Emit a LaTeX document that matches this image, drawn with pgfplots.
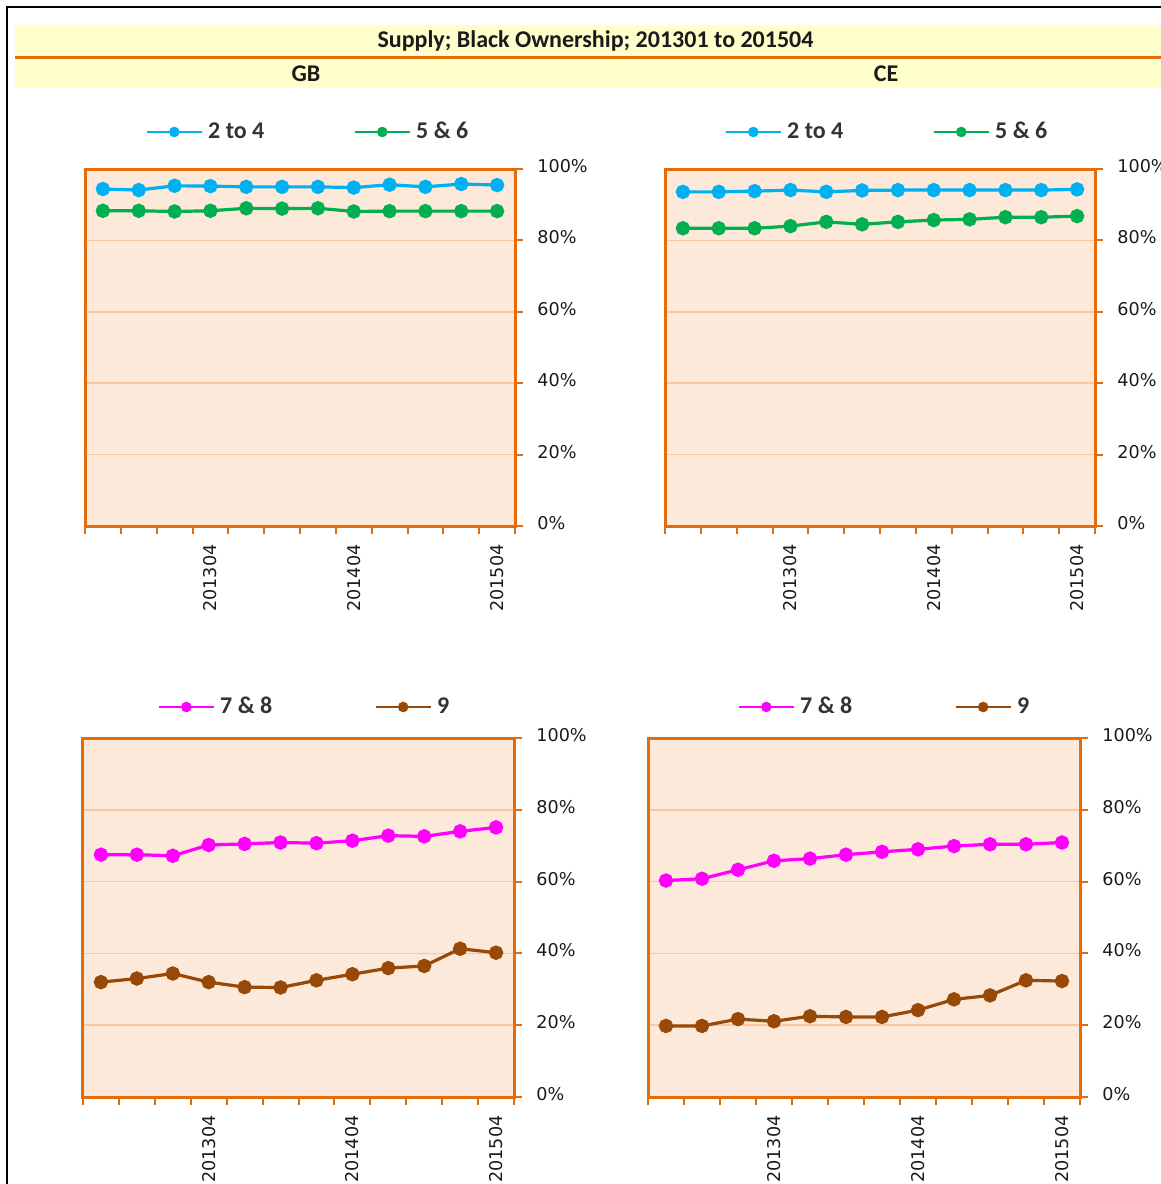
\documentclass[border=0pt]{standalone}
\usepackage{fontspec}
\setmainfont{DejaVu Sans}
\newfontfamily\carlito{Carlito}
\usepackage{pgfplots}
\pgfplotsset{compat=1.18}
\definecolor{frameor}{HTML}{E46C0A}
\definecolor{plotbg}{HTML}{FDE9D9}
\definecolor{gridor}{HTML}{FAC8A0}
\definecolor{bandy}{HTML}{FFFFCC}
\definecolor{sblue}{HTML}{00B0F0}
\definecolor{sgreen}{HTML}{00B050}
\definecolor{smag}{HTML}{FF00FF}
\definecolor{sbrown}{HTML}{984807}
\definecolor{txt}{HTML}{1A1A1A}
\definecolor{legtxt}{HTML}{333333}

\pgfplotsset{
  panel/.style={
    scale only axis,
    xmin=0.5, xmax=12.5, ymin=0, ymax=100,
    axis background/.style={fill=plotbg},
    axis line style={draw=frameor, line width=1.5pt},
    ymajorgrids, grid style={draw=gridor, line width=0.8pt},
    ytick={0,20,40,60,80,100},
    yticklabels={0\%,20\%,40\%,60\%,80\%,100\%},
    ytick pos=right, yticklabel pos=right,
    xtick pos=bottom, xticklabel pos=bottom,
    tick align=outside,
    major tick length=4pt, minor tick length=4pt,
    major y tick style={draw=frameor, line width=1pt},
    major x tick style={draw=none},
    minor x tick style={draw=frameor, line width=1pt},
    xtick={1,...,12},
    minor xtick={0.5,1.5,...,12.5},
    xticklabels={,,,201304,,,,201404,,,,201504},
    xticklabel style={rotate=90, anchor=east, inner sep=0pt, font=\fontsize{8.8}{10}\selectfont, text=txt},
    yticklabel style={anchor=west, inner sep=0pt, yshift=1.5pt, font=\fontsize{8.8}{10}\selectfont, text=txt},
    xticklabel shift=5pt,
    yticklabel shift=7pt,
    legend columns=2,
    legend image code/.code={\draw[mark repeat=2,mark phase=2,#1,line width=1.4pt,mark size=1.9pt] plot coordinates {(0pt,0pt) (13.75pt,0pt) (27.5pt,0pt)};},
    legend style={draw=none, fill=none, inner sep=0pt, at={(0,1)}, anchor=west,
      font=\carlito\bfseries\fontsize{12}{14}\selectfont, text=legtxt,
      nodes={inner sep=0pt},
      /tikz/every odd column/.append style={column sep=2.5pt},
      /tikz/every even column/.append style={column sep=44.5pt}},
    every axis plot/.append style={line width=1.6pt, mark=*, mark size=2.8pt},
  }
}

\begin{document}
\begin{tikzpicture}
\begin{scope}[x=0.5pt,y=-0.5pt]
  \fill[bandy] (15,25) rectangle (1161,88);
  \draw[frameor, line width=1.5pt] (15,57) -- (1161,57);
  \node[font=\carlito\bfseries\fontsize{12}{14}\selectfont, text=txt, anchor=base] at (595.5,47) {Supply; Black Ownership; 201301 to 201504};
  \node[font=\carlito\bfseries\fontsize{12}{14}\selectfont, text=txt, anchor=base] at (306,81) {GB};
  \node[font=\carlito\bfseries\fontsize{12}{14}\selectfont, text=txt, anchor=base] at (886,81) {CE};
  \draw[black, line width=1pt] (7,1184) -- (7,7) -- (1161,7);
\end{scope}

% Top-left GB
\begin{axis}[panel, at={(42.5pt,-263pt)}, anchor=south west, width=215pt, height=178.5pt,
  legend style={xshift=30pt, yshift=18.5pt}]
\addplot[color=sblue] coordinates {(1,94.4) (2,94.1) (3,95.3) (4,95.2) (5,95.0) (6,95.0) (7,95.0) (8,94.8) (9,95.6) (10,95.0) (11,95.8) (12,95.5)};
\addlegendentry{2 to 4}
\addplot[color=sgreen] coordinates {(1,88.3) (2,88.3) (3,88.1) (4,88.3) (5,89.0) (6,88.9) (7,89.0) (8,88.1) (9,88.2) (10,88.2) (11,88.2) (12,88.2)};
\addlegendentry{5 \& 6}
\end{axis}

% Top-right CE
\begin{axis}[panel, at={(332.5pt,-263pt)}, anchor=south west, width=215pt, height=178.5pt,
  legend style={xshift=29.5pt, yshift=18.5pt}]
\addplot[color=sblue] coordinates {(1,93.6) (2,93.6) (3,93.8) (4,94.1) (5,93.6) (6,94.0) (7,94.1) (8,94.1) (9,94.1) (10,94.1) (11,94.1) (12,94.3)};
\addlegendentry{2 to 4}
\addplot[color=sgreen] coordinates {(1,83.4) (2,83.4) (3,83.4) (4,84.0) (5,85.2) (6,84.5) (7,85.2) (8,85.7) (9,85.9) (10,86.5) (11,86.5) (12,86.8)};
\addlegendentry{5 \& 6}
\end{axis}

% Bottom-left GB
\begin{axis}[panel, at={(41.5pt,-548.5pt)}, anchor=south west, width=215.5pt, height=179.5pt,
  legend style={xshift=37pt, yshift=15.5pt, /tikz/every even column/.append style={column sep=51pt}}]
\addplot[color=smag] coordinates {(1,67.5) (2,67.5) (3,67.2) (4,70.2) (5,70.5) (6,70.9) (7,70.7) (8,71.4) (9,72.8) (10,72.6) (11,74.0) (12,75.1)};
\addlegendentry{7 \& 8}
\addplot[color=sbrown] coordinates {(1,32.0) (2,33.0) (3,34.4) (4,32.0) (5,30.6) (6,30.5) (7,32.5) (8,34.2) (9,35.9) (10,36.5) (11,41.3) (12,40.2)};
\addlegendentry{9}
\end{axis}

% Bottom-right CE
\begin{axis}[panel, at={(324pt,-548.5pt)}, anchor=south west, width=216pt, height=179.5pt,
  legend style={xshift=44.5pt, yshift=15.5pt, /tikz/every even column/.append style={column sep=51pt}}]
\addplot[color=smag] coordinates {(1,60.3) (2,60.8) (3,63.3) (4,65.8) (5,66.4) (6,67.5) (7,68.3) (8,69.0) (9,69.9) (10,70.4) (11,70.4) (12,70.9)};
\addlegendentry{7 \& 8}
\addplot[color=sbrown] coordinates {(1,19.8) (2,19.8) (3,21.7) (4,21.1) (5,22.5) (6,22.3) (7,22.3) (8,24.2) (9,27.2) (10,28.3) (11,32.5) (12,32.3)};
\addlegendentry{9}
\end{axis}

\pgfresetboundingbox
\path[use as bounding box] (0pt,0pt) rectangle (580.5pt,-592pt);
\end{tikzpicture}
\end{document}
